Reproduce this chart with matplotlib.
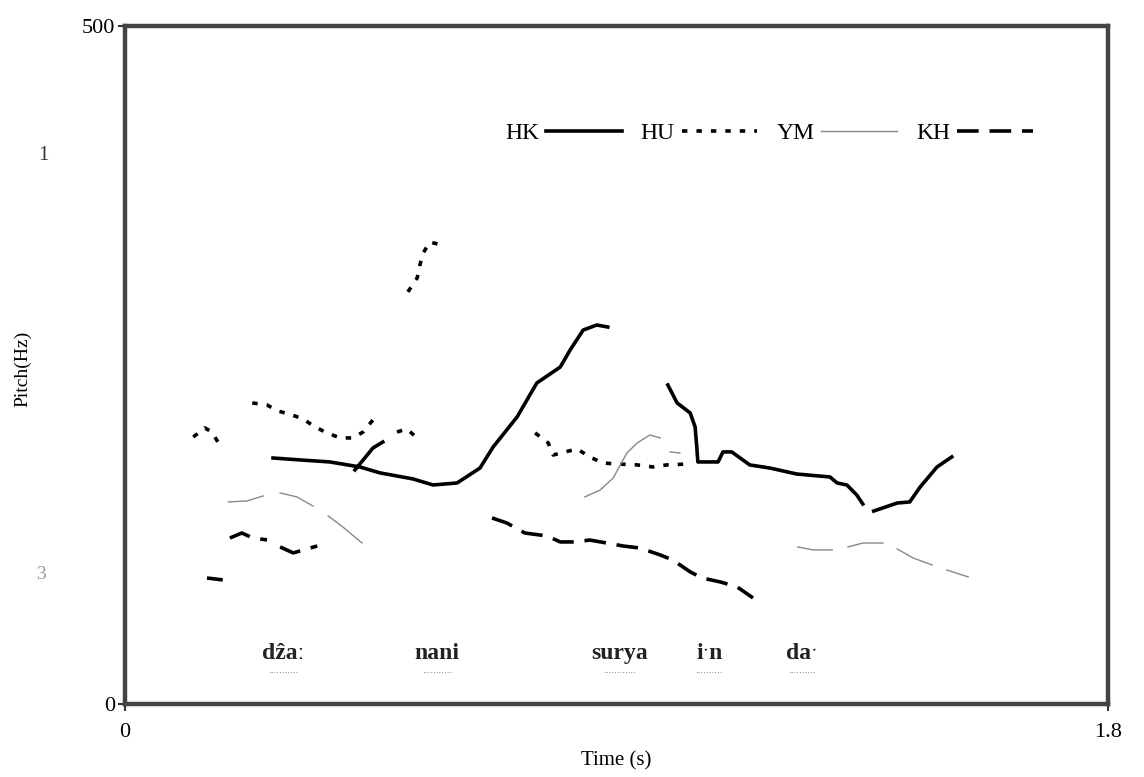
import numpy as np
import matplotlib
matplotlib.use("Agg")
import matplotlib.pyplot as plt

plt.rcParams["font.family"] = ["Liberation Serif", "DejaVu Serif"]

nan = np.nan

# Pitch tracks (time in s, pitch in Hz); NaN separates voiced stretches
hk_t = [0.271, 0.320, 0.375, 0.430, 0.467, 0.527, 0.564, 0.608, 0.650, 0.674, 0.718, 0.754, 0.797, 0.815, 0.839, 0.864, 0.884, nan,
        0.421, 0.439, 0.454, 0.472, nan,
        0.994, 1.011, 1.035, 1.044, 1.047, 1.049, 1.086, 1.095, 1.111, 1.144, 1.181, 1.230, 1.291, 1.304, 1.322, 1.340, 1.351, nan,
        1.371, 1.414, 1.437, 1.456, 1.487, 1.514]
hk_f = [181.4, 180.0, 178.5, 174.8, 170.4, 166.0, 161.5, 163.0, 174.0, 189.5, 211.7, 236.7, 248.5, 261.0, 275.8, 279.5, 278.0, nan,
        172.6, 181.4, 188.8, 193.2, nan,
        235.3, 222.0, 214.6, 204.3, 189.5, 178.5, 178.5, 185.9, 185.9, 176.3, 174.0, 169.6, 167.4, 163.0, 161.5, 154.1, 147.5, nan,
        142.3, 148.2, 149.0, 160.0, 174.8, 182.2]

hu_t = [0.125, 0.146, 0.159, 0.170, nan,
        0.233, 0.260, 0.280, 0.306, 0.326, 0.348, 0.370, 0.394, 0.417, 0.436, 0.454, nan,
        0.498, 0.516, 0.535, nan,
        0.518, 0.535, 0.540, 0.546, 0.558, 0.580, nan,
        0.751, 0.775, 0.784, 0.806, 0.828, 0.851, 0.875, 0.901, 0.938, 0.967, 0.992, 1.031]
hu_f = [196.9, 203.6, 200.6, 193.2, nan,
        222.0, 220.5, 216.1, 213.1, 210.2, 204.3, 199.9, 196.2, 196.2, 200.6, 209.5, nan,
        200.6, 202.8, 196.2, nan,
        303.9, 314.2, 323.8, 332.6, 340.7, 338.5, nan,
        199.9, 192.5, 183.6, 185.9, 188.1, 182.2, 177.7, 177.0, 176.3, 174.8, 176.3, 177.0]

ym_t = [0.189, 0.223, 0.253, nan, 0.284, 0.315, 0.344, nan, 0.372, 0.399, 0.434, nan,
        0.842, 0.870, 0.894, 0.919, 0.938, 0.961, 0.980, nan, 0.998, 1.016, nan,
        1.232, 1.260, 1.295, nan, 1.324, 1.351, 1.388, nan, 1.414, 1.443, 1.478, nan, 1.505, 1.544]
ym_f = [149.0, 149.7, 153.4, nan, 155.6, 152.7, 146.0, nan, 138.7, 130.5, 118.7, nan,
        152.7, 157.8, 166.7, 185.1, 192.5, 198.4, 196.2, nan, 185.9, 185.1, nan,
        115.8, 113.6, 113.6, nan, 115.8, 118.7, 118.7, nan, 114.3, 107.7, 102.5, nan, 98.8, 93.7]

kh_t = [0.150, 0.179, nan, 0.192, 0.214, 0.234, 0.260, nan, 0.284, 0.308, 0.352, nan,
        0.672, 0.699, 0.732, 0.773, 0.797, 0.824, 0.851, 0.892, 0.912, 0.943, 0.980, 1.003, 1.035, 1.057, 1.090, 1.121, 1.150]
kh_f = [92.9, 91.5, nan, 122.4, 126.1, 122.4, 121.0, nan, 115.8, 111.4, 116.5, nan,
        137.2, 133.5, 126.1, 123.9, 119.5, 119.5, 120.9, 118.0, 116.5, 115.0, 109.9, 106.2, 97.4, 92.9, 90.0, 86.3, 78.2]

# syllable labels
syllables = ["dẑaː", "nani", "surya", "iˑn", "daˑ"]
syllable_t = [0.29, 0.571, 0.905, 1.07, 1.24]
syllable_f = 33

fig = plt.figure(figsize=(11.44, 7.77), dpi=100)
ax = fig.add_axes([0.1093, 0.094, 0.8592, 0.8725])

ax.plot(hk_t, hk_f, color="black", lw=2.6, label="HK")
ax.plot(hu_t, hu_f, color="black", lw=2.6, linestyle=(0, (1.5, 2.5)), label="HU")
ax.plot(ym_t, ym_f, color="#888888", lw=1.0, label="YM")
ax.plot(kh_t, kh_f, color="black", lw=2.6, linestyle=(0, (6, 3)), label="KH")

for s, t in zip(syllables, syllable_t):
    ax.text(t, syllable_f, s, ha="center", va="baseline", fontsize=17, fontweight="bold", color="#222222")
    ax.text(t, syllable_f - 7, "·" * (len(s) + 7), ha="center", va="top", fontsize=6, color="#666666")

ax.set_xlim(0, 1.8)
ax.set_ylim(0, 500)
ax.set_xticks([0, 1.8])
ax.set_xticklabels(["0", "1.8"])
ax.set_yticks([0, 500])
ax.set_yticklabels(["0", "500"])
ax.tick_params(labelsize=16, length=5, width=1.5, color="#333333", pad=2)
ax.tick_params(axis="x", pad=9)
for side in ["left", "right", "top", "bottom"]:
    ax.spines[side].set_linewidth(3.2)
    ax.spines[side].set_color("#444444")

ax.set_xlabel("Time (s)", fontsize=15, labelpad=6)
fig.text(0.02, 0.525, "Pitch(Hz)", rotation=90, fontsize=14, ha="center", va="center")
fig.text(0.038, 0.80, "1", fontsize=15, ha="center", va="center", color="#333333")
fig.text(0.036, 0.26, "3", fontsize=14, ha="center", va="center", color="#999999")

ax.legend(loc="center", bbox_to_anchor=(0.655, 0.842), ncol=4, markerfirst=False, frameon=False,
          fontsize=17, handlelength=3.2, handletextpad=0.3, columnspacing=0.8)

fig.savefig("out.png", dpi=100)
